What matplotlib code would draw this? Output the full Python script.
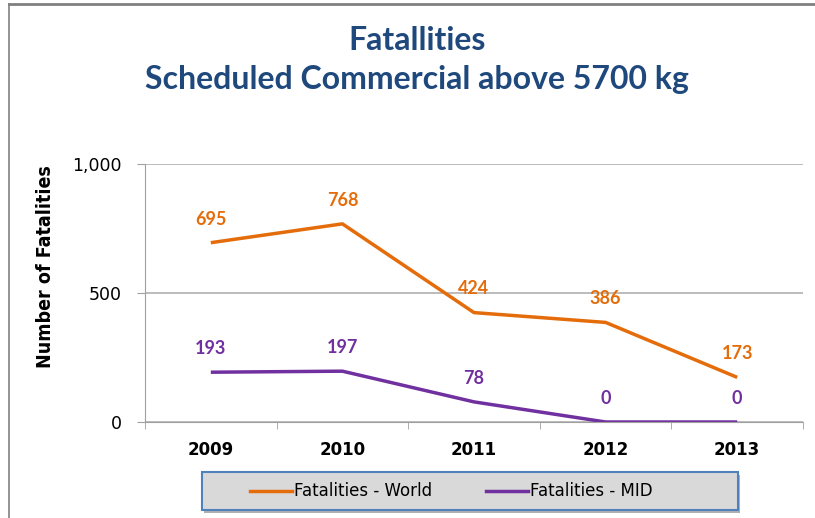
import matplotlib
matplotlib.use("Agg")
import matplotlib.pyplot as plt
from matplotlib.lines import Line2D
from matplotlib.patches import Rectangle

years = ["2009", "2010", "2011", "2012", "2013"]
world = [695, 768, 424, 386, 173]
mid = [193, 197, 78, 0, 0]
yticks = [0, 500, 1000]
ytick_labels = ["0", "500", "1,000"]

ORANGE = "#e46c0a"
PURPLE = "#7030a0"
TITLE = "#1f497d"

W, H = 815, 518
fig = plt.figure(figsize=(W/100, H/100), dpi=100)
fig.patch.set_facecolor("white")

# outer frame lines
fig.add_artist(Line2D([9/W, 1], [1-4/H, 1-4/H], color="#808080", lw=2, transform=fig.transFigure))
fig.add_artist(Line2D([9/W, 9/W], [0, 1-4/H], color="#808080", lw=1.2, transform=fig.transFigure))

ax = fig.add_axes([145/W, 1-422/H, (803-145)/W, (422-164)/H])
x = list(range(len(years)))
ax.plot(x, world, color=ORANGE, lw=2.5, solid_capstyle="butt", label="Fatalities - World")
ax.plot(x, mid, color=PURPLE, lw=2.5, solid_capstyle="butt", label="Fatalities - MID")

ax.set_xlim(-0.5, len(years)-0.5)
ax.set_ylim(0, 1000)
ax.set_yticks(yticks)
ax.set_yticklabels(ytick_labels, fontsize=12.5, family="DejaVu Sans")
ax.set_xticks(x)
ax.set_xticklabels(years, fontsize=12, fontweight="bold", family="DejaVu Sans")
ax.set_xticks([i-0.5 for i in range(len(years)+1)], minor=True)
ax.tick_params(axis="x", which="major", length=0, pad=14)
ax.tick_params(axis="x", which="minor", length=5, color="#a0a0a0")
ax.tick_params(axis="y", length=6, color="#a0a0a0", pad=11)
ax.grid(axis="y", color="#b0b0b0", lw=1.2)
ax.set_axisbelow(True)
for s in ["top", "right"]:
    ax.spines[s].set_visible(False)
ax.spines["left"].set_color("#a0a0a0")
ax.spines["bottom"].set_color("#a0a0a0")

for i, v in enumerate(world):
    ax.annotate(str(v), (i, v), xytext=(0, 17), textcoords="offset points",
                ha="center", va="center", color=ORANGE, fontsize=13, fontweight="bold",
                family="Lato")
for i, v in enumerate(mid):
    ax.annotate(str(v), (i, v), xytext=(0, 17), textcoords="offset points",
                ha="center", va="center", color=PURPLE, fontsize=13, fontweight="bold",
                family="Lato")

fig.text(46/W, 1-267/H, "Number of Fatalities", rotation=90, ha="center", va="center",
         fontsize=14, fontweight="bold", fontstretch="condensed", family="DejaVu Sans")

fig.text(417/W, 1-40/H, "Fatallities", ha="center", va="center", fontsize=23,
         fontweight="bold", color=TITLE, family="Lato")
fig.text(417/W, 1-79/H, "Scheduled Commercial above 5700 kg", ha="center", va="center",
         fontsize=23, fontweight="bold", color=TITLE, family="Lato")

# legend box
lx0, ly0, lx1, ly1 = 202, 472, 738, 510
fig.add_artist(Rectangle((lx0/W+2/W, 1-ly1/H-3/H), (lx1-lx0)/W, (ly1-ly0)/H,
                         transform=fig.transFigure, facecolor="#b0b0b0", edgecolor="none"))
fig.add_artist(Rectangle((lx0/W, 1-ly1/H), (lx1-lx0)/W, (ly1-ly0)/H,
                         transform=fig.transFigure, facecolor="#d9d9d9", edgecolor="#4f81bd", lw=1.5))
ymid = 1-491/H
fig.add_artist(Line2D([250/W, 292/W], [ymid, ymid], color=ORANGE, lw=2.5, transform=fig.transFigure))
fig.text(294/W, ymid, "Fatalities - World", ha="left", va="center", fontsize=12, family="DejaVu Sans")
fig.add_artist(Line2D([486/W, 528/W], [ymid, ymid], color=PURPLE, lw=2.5, transform=fig.transFigure))
fig.text(530/W, ymid, "Fatalities - MID", ha="left", va="center", fontsize=12, family="DejaVu Sans")

fig.savefig("out.png", dpi=100)
